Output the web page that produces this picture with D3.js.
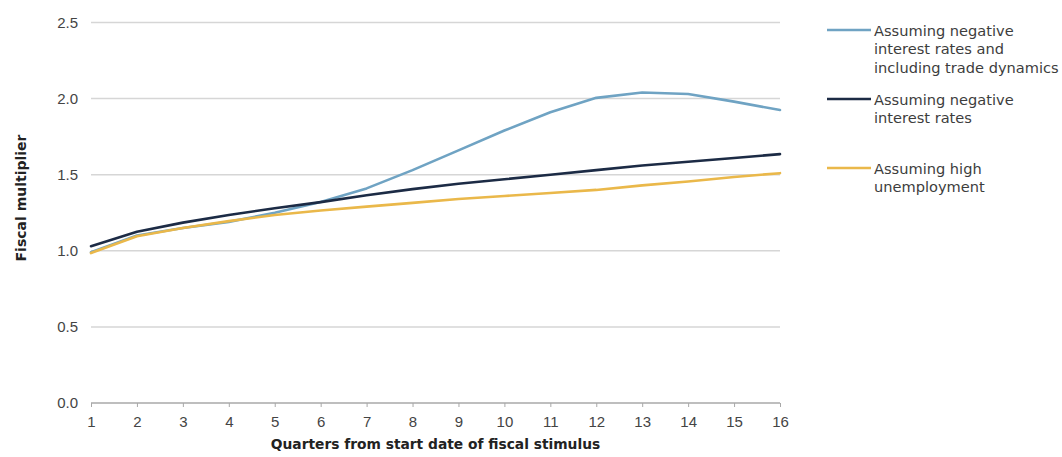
<!DOCTYPE html>
<html>
<head>
<meta charset="utf-8">
<script src="https://cdn.jsdelivr.net/npm/d3@7"></script>
<style>
  html, body { margin: 0; padding: 0; background: #fff; }
  svg { display: block; }
  text { font-family: "DejaVu Sans", sans-serif; }
</style>
</head>
<body>
<svg id="chart" width="1062" height="457"></svg>
<script>
// ---- data ----
const quarters = [1, 2, 3, 4, 5, 6, 7, 8, 9, 10, 11, 12, 13, 14, 15, 16];
const tradeDynamics = [0.99, 1.10, 1.15, 1.19, 1.25, 1.32, 1.41, 1.53, 1.66, 1.79, 1.91, 2.005, 2.04, 2.03, 1.98, 1.925];
const negativeRates = [1.03, 1.125, 1.185, 1.235, 1.28, 1.32, 1.365, 1.405, 1.44, 1.47, 1.50, 1.53, 1.56, 1.585, 1.61, 1.635];
const highUnemployment = [0.985, 1.095, 1.15, 1.195, 1.235, 1.265, 1.29, 1.315, 1.34, 1.36, 1.38, 1.40, 1.43, 1.455, 1.485, 1.51];
const yTicks = [0, 0.5, 1.0, 1.5, 2.0, 2.5];
const seriesNames = [
  ["Assuming negative", "interest rates and", "including trade dynamics"],
  ["Assuming negative", "interest rates"],
  ["Assuming high", "unemployment"]
];
const seriesColors = ["#6fa3c3", "#1c2b45", "#eab84a"];
const xTitle = "Quarters from start date of fiscal stimulus";
const yTitle = "Fiscal multiplier";

// ---- layout ----
const svg = d3.select("#chart");
const plot = { left: 91, right: 780, top: 22.5, bottom: 403 };

const x = d3.scaleLinear().domain([1, 16]).range([plot.left, plot.right]);
const y = d3.scaleLinear().domain([0, 2.5]).range([plot.bottom, plot.top]);

// gridlines
svg.append("g")
  .selectAll("line")
  .data(yTicks.filter(d => d > 0))
  .join("line")
  .attr("x1", plot.left).attr("x2", plot.right)
  .attr("y1", d => y(d)).attr("y2", d => y(d))
  .attr("stroke", "#d6d6d6").attr("stroke-width", 1.5);

// y axis labels
const yAxis = d3.axisLeft(y).tickValues(yTicks).tickFormat(d3.format(".1f")).tickSize(0).tickPadding(13);
const gy = svg.append("g").attr("transform", `translate(${plot.left},0)`).call(yAxis);
gy.select(".domain").remove();
gy.selectAll("text").attr("fill", "#444").style("font-size", "15px").style("font-family", "'Liberation Sans', Arial, sans-serif");

// x axis
const xAxis = d3.axisBottom(x).tickValues(quarters).tickFormat(d3.format("d")).tickSize(4).tickPadding(9);
const gx = svg.append("g").attr("transform", `translate(0,${plot.bottom})`).call(xAxis);
gx.select(".domain").attr("stroke", "#a8a8a8").attr("stroke-width", 1.5).attr("d", `M${plot.left},0H${plot.right}`);
gx.selectAll(".tick line").attr("stroke", "#a8a8a8").attr("stroke-width", 1);
gx.selectAll("text").attr("fill", "#444").style("font-size", "15px").style("font-family", "'Liberation Sans', Arial, sans-serif");

// axis titles
svg.append("text")
  .attr("x", (plot.left + plot.right) / 2).attr("y", 449)
  .attr("text-anchor", "middle")
  .attr("font-size", 13.8).attr("font-weight", "bold").attr("fill", "#222")
  .text(xTitle);

svg.append("text")
  .attr("transform", "translate(26,198) rotate(-90)")
  .attr("text-anchor", "middle")
  .attr("font-size", 14).attr("font-weight", "bold").attr("fill", "#222")
  .text(yTitle);

// lines
const allSeries = [tradeDynamics, negativeRates, highUnemployment];
const line = d3.line().x((d, i) => x(quarters[i])).y(d => y(d));
svg.append("g")
  .selectAll("path")
  .data(allSeries)
  .join("path")
  .attr("d", d => line(d))
  .attr("fill", "none")
  .attr("stroke", (d, i) => seriesColors[i])
  .attr("stroke-width", 2.6)
  .attr("stroke-linejoin", "round")
  .attr("stroke-linecap", "round");

// legend
const legendTop = [30, 99, 168];
const legend = svg.append("g");
seriesNames.forEach((lines, i) => {
  const g = legend.append("g").attr("transform", `translate(827,${legendTop[i]})`);
  g.append("line").attr("x1", 0).attr("x2", 44).attr("y1", 0).attr("y2", 0)
    .attr("stroke", seriesColors[i]).attr("stroke-width", 2.6);
  const t = g.append("text").attr("x", 47).attr("y", 5.5)
    .attr("font-size", 14.6).attr("fill", "#3d3d3d");
  lines.forEach((s, j) => {
    t.append("tspan").attr("x", 47).attr("dy", j === 0 ? 0 : 18.5).text(s);
  });
});
</script>
</body>
</html>
